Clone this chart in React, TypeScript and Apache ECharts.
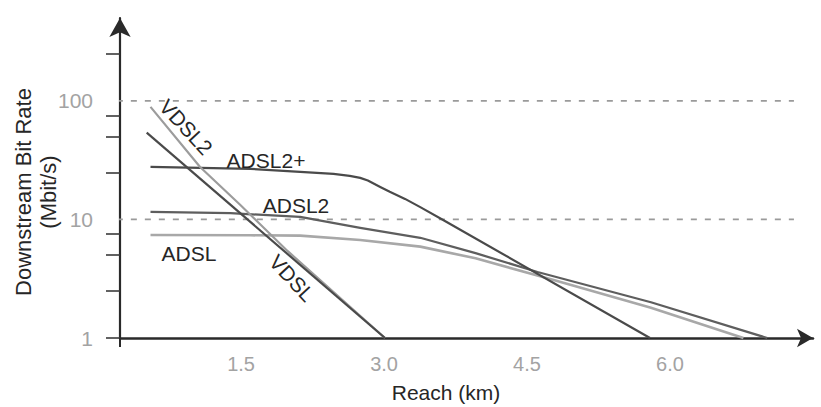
import React, { useEffect, useRef } from "react";
import * as echarts from "echarts";

// Reach (km) / downstream rate (Mbit/s)
const vdsl2Km = [0.55, 1.07, 1.49, 1.99, 3.01];
const vdsl2Rate = [89, 27.7, 13.3, 5.4, 1];

const vdslKm = [0.51, 3.01];
const vdslRate = [54, 1];

const adsl2pKm = [0.55, 1.6, 2.12, 2.47, 2.64, 2.75, 2.83, 2.96, 3.06, 3.22, 3.38, 3.62, 5.79];
const adsl2pRate = [27.7, 26.7, 25.2, 24.2, 23.3, 22.4, 21.3, 18.8, 17.1, 14.9, 12.7, 9.9, 1];

const adsl2Km = [0.55, 1.39, 2.12, 2.75, 3.38, 3.96, 4.61, 5.8, 7.02];
const adsl2Rate = [11.6, 11.3, 10.5, 8.5, 7.0, 5.2, 3.6, 2.0, 1];

const adslKm = [0.55, 1.6, 2.12, 2.75, 3.38, 3.96, 4.77, 5.8, 6.77];
const adslRate = [7.4, 7.35, 7.3, 6.7, 5.9, 4.7, 3.1, 1.8, 1];

const xTickLabels = [1.5, 3.0, 4.5, 6.0];
const yTickLabels = [1, 10, 100];
const yMinorTicks = [1, 2.5, 5, 7.5, 25, 50, 75, 250];
const refRates = [10, 100];
const refSpanKm = [0.05, 7.3];

const FONT = "'Liberation Sans', Arial, Helvetica, sans-serif";

const pairs = (xs: number[], ys: number[]) => xs.map((x, i) => [x, ys[i]]);

export default function App() {
  const ref = useRef<HTMLDivElement>(null);
  useEffect(() => {
    if (!ref.current) return;
    const chart = echarts.init(ref.current, null, { renderer: "svg" });
    const curve = (name: string, xs: number[], ys: number[], color: string, width: number) => ({
      name,
      type: "line",
      data: pairs(xs, ys),
      showSymbol: false,
      symbol: "none",
      smooth: false,
      clip: false,
      lineStyle: { color, width, join: "round" },
      silent: true,
      z: 3,
    });
    const refLines = refRates.map((r) => ({
      type: "line",
      data: refSpanKm.map((k) => [k, r]),
      symbol: "none",
      showSymbol: false,
      clip: false,
      silent: true,
      lineStyle: { color: "#9a9a9a", width: 1.7, type: [6, 8] },
      z: 1,
    }));
    const deg = Math.PI / 180;
    const label = (text: string, x: number, y: number, rot = 0) => ({
      type: "text",
      x,
      y,
      rotation: rot * deg,
      style: {
        text,
        fill: "#262626",
        font: `21px ${FONT}`,
        textAlign: "center",
        textVerticalAlign: "middle",
      },
      z: 10,
    });
    chart.setOption({
      animation: false,
      backgroundColor: "#ffffff",
      grid: { left: 120, right: 8, top: 18, bottom: 69, containLabel: false },
      xAxis: {
        type: "value",
        min: 0.23,
        max: 7.5,
        axisLine: {
          onZero: false,
          lineStyle: { color: "#2a2a2a", width: 2.5 },
          symbol: ["none", "arrow"],
          symbolSize: [14, 16],
        },
        axisTick: { show: true, customValues: [0.23], length: 9, lineStyle: { color: "#2a2a2a", width: 2 } },
        axisLabel: {
          customValues: xTickLabels,
          formatter: (v: number) => v.toFixed(1),
          color: "#a3a3a3",
          fontSize: 20,
          fontFamily: FONT,
          margin: 16,
        },
        splitLine: { show: false },
      },
      yAxis: {
        type: "log",
        logBase: 10,
        min: 1,
        max: 500,
        axisLine: {
          show: true,
          onZero: false,
          lineStyle: { color: "#2a2a2a", width: 2.2 },
          symbol: ["none", "arrow"],
          symbolSize: [16, 19],
        },
        axisTick: { show: true, customValues: yMinorTicks, length: 14, inside: false, lineStyle: { color: "#3a3a3a", width: 1.6 } },
        axisLabel: {
          customValues: yTickLabels,
          formatter: (v: number) => String(v),
          color: "#a3a3a3",
          fontSize: 21,
          fontFamily: FONT,
          margin: 27,
        },
        splitLine: { show: false },
        minorTick: { show: false },
      },
      series: [
        ...refLines,
        curve("ADSL", adslKm, adslRate, "#a8a8a8", 2.6),
        curve("ADSL2", adsl2Km, adsl2Rate, "#5e5e5e", 2.2),
        curve("ADSL2+", adsl2pKm, adsl2pRate, "#4a4a4a", 2.2),
        curve("VDSL2", vdsl2Km, vdsl2Rate, "#9c9c9c", 2.2),
        curve("VDSL", vdslKm, vdslRate, "#4a4a4a", 2.2),
      ],
      graphic: [
        label("VDSL2", 186, 127, -47),
        label("ADSL2+", 266, 160),
        label("ADSL2", 296, 205),
        label("ADSL", 189, 253),
        label("VDSL", 292, 278, -47),
        {
          type: "text",
          x: 446,
          y: 392,
          style: {
            text: "Reach (km)",
            fill: "#262626",
            font: `21px ${FONT}`,
            textAlign: "center",
            textVerticalAlign: "middle",
          },
        },
        {
          type: "text",
          x: 36,
          y: 192,
          rotation: Math.PI / 2,
          style: {
            text: "Downstream Bit Rate\n(Mbit/s)",
            fill: "#262626",
            font: `22px ${FONT}`,
            lineHeight: 25,
            textAlign: "center",
            textVerticalAlign: "middle",
          },
        },
      ],
    });
    return () => chart.dispose();
  }, []);
  return (
    <div
      ref={ref}
      style={{ position: "fixed", left: 0, top: 0, width: 821, height: 407, background: "#fff" }}
    />
  );
}
